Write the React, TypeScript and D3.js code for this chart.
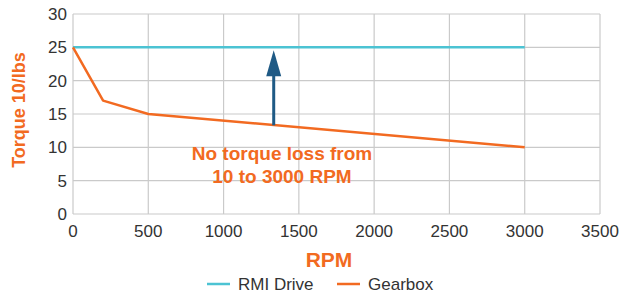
import React, { useEffect, useRef } from 'react';
import * as d3 from 'd3';

const rpmTicks = [0, 500, 1000, 1500, 2000, 2500, 3000, 3500];
const torqueTicks = [0, 5, 10, 15, 20, 25, 30];

const rmiRpm = [0, 3000];
const rmiTorque = [25, 25];

const gearRpm = [0, 200, 500, 3000];
const gearTorque = [25, 17, 15, 10];

const arrowRpm = 1333;
const arrowFrom = 13.3;
const arrowTo = 25;

const App = () => {
  const svgRef = useRef<SVGSVGElement>(null);

  useEffect(() => {
    const svg = d3.select(svgRef.current);
    svg.selectAll('*').remove();

    const W = 625, H = 294;
    const font = 'Liberation Sans, Arial, sans-serif';
    const orange = '#f26a21';
    const cyan = '#4cc3d3';
    const grid = '#cacaca';

    const x = d3.scaleLinear().domain([0, 3500]).range([73, 600]);
    const y = d3.scaleLinear().domain([0, 30]).range([214, 14]);

    svg.attr('width', W).attr('height', H);
    svg.append('rect').attr('width', W).attr('height', H).attr('fill', '#fff');

    // grid
    const g = svg.append('g');
    g.selectAll('.vg').data(rpmTicks).enter().append('line')
      .attr('x1', d => x(d)).attr('x2', d => x(d))
      .attr('y1', y(0)).attr('y2', y(30))
      .attr('stroke', grid).attr('stroke-width', 1.2);
    g.selectAll('.hg').data(torqueTicks).enter().append('line')
      .attr('x1', x(0)).attr('x2', x(3500))
      .attr('y1', d => y(d)).attr('y2', d => y(d))
      .attr('stroke', grid).attr('stroke-width', 1.2);

    // tick labels
    g.selectAll('.xt').data(rpmTicks).enter().append('text')
      .attr('x', d => x(d)).attr('y', 237)
      .attr('text-anchor', 'middle')
      .attr('font-family', font).attr('font-size', 17).attr('fill', '#333')
      .text(d => d);
    g.selectAll('.yt').data(torqueTicks).enter().append('text')
      .attr('x', 67).attr('y', d => y(d) + 6)
      .attr('text-anchor', 'end')
      .attr('font-family', font).attr('font-size', 17).attr('fill', '#333')
      .text(d => d);

    const line = d3.line<[number, number]>()
      .x(d => x(d[0])).y(d => y(d[1]));

    const rmi = rmiRpm.map((r, i) => [r, rmiTorque[i]] as [number, number]);
    const gear = gearRpm.map((r, i) => [r, gearTorque[i]] as [number, number]);

    g.append('path').datum(rmi).attr('d', line)
      .attr('fill', 'none').attr('stroke', cyan).attr('stroke-width', 2.5);
    g.append('path').datum(gear).attr('d', line)
      .attr('fill', 'none').attr('stroke', orange).attr('stroke-width', 2.5)
      .attr('stroke-linejoin', 'round');

    // arrow
    const ax = x(arrowRpm);
    const tip = y(arrowTo) + 3;
    g.append('line')
      .attr('x1', ax).attr('x2', ax)
      .attr('y1', y(arrowFrom)).attr('y2', tip + 24)
      .attr('stroke', '#1f5a85').attr('stroke-width', 3);
    g.append('path')
      .attr('d', `M${ax},${tip} L${ax + 7.5},${tip + 26} L${ax - 7.5},${tip + 26} Z`)
      .attr('fill', '#1f5a85');

    // annotation
    const note = g.append('text')
      .attr('text-anchor', 'middle')
      .attr('font-family', font).attr('font-size', 19).attr('font-weight', 'bold')
      .attr('fill', orange);
    note.append('tspan').attr('x', 282).attr('y', 160).text('No torque loss from');
    note.append('tspan').attr('x', 282).attr('y', 183).text('10 to 3000 RPM');

    // axis titles
    svg.append('text')
      .attr('transform', 'translate(25,110) rotate(-90)')
      .attr('text-anchor', 'middle')
      .attr('font-family', font).attr('font-size', 18).attr('font-weight', 'bold')
      .attr('fill', orange)
      .text('Torque 10/lbs');
    svg.append('text')
      .attr('x', 329).attr('y', 267)
      .attr('text-anchor', 'middle')
      .attr('font-family', font).attr('font-size', 21).attr('font-weight', 'bold')
      .attr('fill', orange)
      .text('RPM');

    // legend
    const legend = [
      { label: 'RMI Drive', color: cyan, x0: 207 },
      { label: 'Gearbox', color: orange, x0: 337 },
    ];
    const lg = svg.append('g');
    legend.forEach(l => {
      lg.append('line')
        .attr('x1', l.x0).attr('x2', l.x0 + 23)
        .attr('y1', 284).attr('y2', 284)
        .attr('stroke', l.color).attr('stroke-width', 2.5);
      lg.append('text')
        .attr('x', l.x0 + 31).attr('y', 290)
        .attr('font-family', font).attr('font-size', 17).attr('fill', '#333')
        .text(l.label);
    });
  }, []);

  return (
    <div style={{ position: 'absolute', left: 0, top: 0, width: 625, height: 294, overflow: 'hidden' }}>
      <svg ref={svgRef} style={{ display: 'block' }}></svg>
    </div>
  );
};

export default App;
